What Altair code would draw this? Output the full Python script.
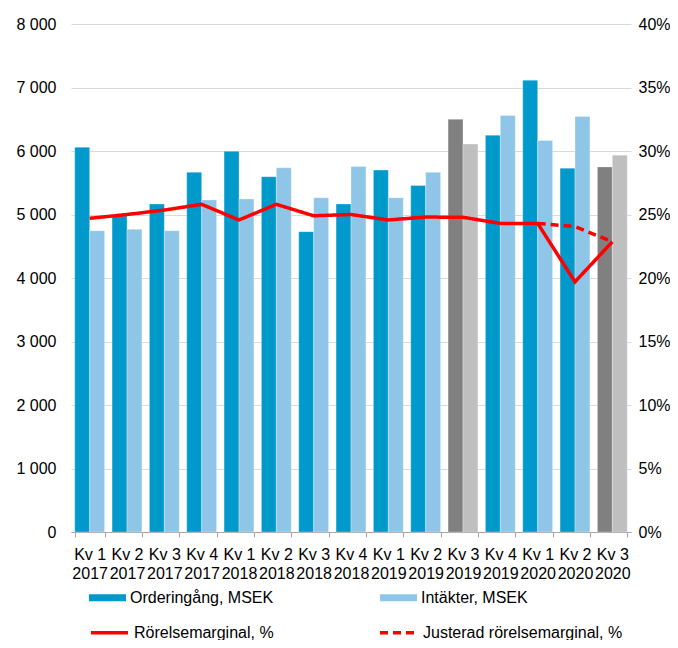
import altair as alt
import pandas as pd

# ---- data ----
quarters = ["Kv 1", "Kv 2", "Kv 3", "Kv 4", "Kv 1", "Kv 2", "Kv 3", "Kv 4",
            "Kv 1", "Kv 2", "Kv 3", "Kv 4", "Kv 1", "Kv 2", "Kv 3"]
years = ["2017", "2017", "2017", "2017", "2018", "2018", "2018", "2018",
         "2019", "2019", "2019", "2019", "2020", "2020", "2020"]
orderingang = [6060, 4980, 5165, 5665, 5995, 5595, 4730, 5165,
               5700, 5455, 6500, 6250, 7115, 5730, 5750]
intakter = [4745, 4767, 4745, 5230, 5245, 5735, 5265, 5755,
            5265, 5665, 6110, 6560, 6165, 6545, 5935]
rorelsemarginal = [24.7, 25.0, 25.35, 25.8, 24.57, 25.8, 24.9, 25.0,
                   24.57, 24.8, 24.78, 24.3, 24.3, 19.7, 22.85]
justerad_perioder = ["Kv 1 2020", "Kv 2 2020", "Kv 3 2020"]
justerad_marginal = [24.3, 24.05, 22.85]
markerade = ["Kv 3 2019", "Kv 3 2020"]

S_ORD = "Orderingång, MSEK"
S_INT = "Intäkter, MSEK"
S_RM = "Rörelsemarginal, %"
S_JRM = "Justerad rörelsemarginal, %"

perioder = [f"{q} {y}" for q, y in zip(quarters, years)]

bar_rows = []
for i, p in enumerate(perioder):
    for s, v in ((S_ORD, orderingang[i]), (S_INT, intakter[i])):
        key = s if p not in markerade else s + " (markerad)"
        bar_rows.append({"period": p, "serie": s, "varde": v, "farg": key})
bars_df = pd.DataFrame(bar_rows)

line_rows = []
for i, p in enumerate(perioder):
    line_rows.append({"period": p, "serie": S_RM, "varde": rorelsemarginal[i], "idx": i})
for p, v in zip(justerad_perioder, justerad_marginal):
    line_rows.append({"period": p, "serie": S_JRM, "varde": v, "idx": perioder.index(p)})
lines_df = pd.DataFrame(line_rows)

FONT = "Liberation Sans"

x_enc = alt.X(
    "period:N",
    sort=perioder,
    scale=alt.Scale(domain=perioder, paddingInner=0.2, paddingOuter=0.1),
    axis=alt.Axis(
        title=None,
        labelAngle=0,
        labelFontSize=16,
        labelColor="#000000",
        labelLineHeight=19,
        labelExpr="[substring(datum.label, 0, 4), substring(datum.label, 5)]",
        labelOverlap=False,
        labelBound=False,
        labelPadding=9,
        labelBaseline="top",
        tickBand="extent",
        tickSize=5,
        tickColor="#A6A6A6",
        domainColor="#A6A6A6",
        grid=False,
    ),
)

bar_colors_domain = [S_ORD, S_INT, S_ORD + " (markerad)", S_INT + " (markerad)"]
bar_colors_range = ["#0099CC", "#8FC6E7", "#808080", "#BFBFBF"]

line_legend = alt.Legend(
    title=None,
    orient="none",
    legendX=18,
    legendY=588,
    columns=2,
    columnPadding=99,
    symbolType="stroke",
    symbolSize=1369,
    symbolStrokeWidth=3.5,
    labelFontSize=16,
    labelColor="#000000",
    labelOffset=4,
    labelLimit=400,
)

bars = alt.Chart(bars_df).mark_bar(stroke="#FFFFFF", strokeWidth=0.5, strokeOpacity=0.6).encode(
    x=x_enc,
    xOffset=alt.XOffset("serie:N", sort=[S_ORD, S_INT],
                        scale=alt.Scale(domain=[S_ORD, S_INT], paddingInner=0, paddingOuter=0)),
    y=alt.Y(
        "varde:Q",
        scale=alt.Scale(domain=[0, 8000], nice=False),
        axis=alt.Axis(
            title=None,
            values=list(range(0, 8001, 1000)),
            labelExpr="replace(format(datum.value, ',d'), ',', ' ')",
            labelFontSize=16,
            labelColor="#000000",
            labelPadding=15,
            ticks=False,
            domain=False,
            grid=True,
            gridColor="#D9D9D9",
            gridWidth=1,
        ),
    ),
    color=alt.Color(
        "farg:N",
        scale=alt.Scale(domain=bar_colors_domain, range=bar_colors_range),
        legend=alt.Legend(
            title=None,
            values=[S_ORD, S_INT],
            orient="none",
            legendX=18,
            legendY=555,
            columns=2,
            columnPadding=106,
            symbolType="M-1,-0.19H1V0.19H-1Z",
            symbolSize=1369,
            symbolStrokeWidth=0,
            labelFontSize=16,
            labelColor="#000000",
            labelOffset=4,
            labelLimit=400,
        ),
    ),
)

lines = alt.Chart(lines_df).mark_line(strokeWidth=3.5).encode(
    x=x_enc,
    y=alt.Y(
        "varde:Q",
        scale=alt.Scale(domain=[0, 40], nice=False),
        axis=alt.Axis(
            title=None,
            orient="right",
            values=list(range(0, 41, 5)),
            labelExpr="datum.value + '%'",
            labelFontSize=16,
            labelColor="#000000",
            labelPadding=7,
            ticks=False,
            domain=False,
            grid=False,
        ),
    ),
    color=alt.Color(
        "serie:N",
        scale=alt.Scale(domain=[S_RM, S_JRM], range=["#FF0000", "#FF0000"]),
        legend=line_legend,
    ),
    strokeDash=alt.StrokeDash(
        "serie:N",
        scale=alt.Scale(domain=[S_RM, S_JRM], range=[[1, 0], [8, 5]]),
        legend=line_legend,
    ),
    order=alt.Order("idx:Q"),
)

chart = (
    alt.layer(bars, lines)
    .resolve_scale(y="independent", color="independent", strokeDash="independent")
    .properties(
        width=560,
        height=508,
        autosize=alt.AutoSizeParams(type="none"),
        padding={"left": 63, "top": 16, "right": 39, "bottom": 108},
    )
    .configure(font=FONT)
    .configure_view(stroke=None)
)

chart.save("out.html", embed_options={"renderer": "svg", "actions": False})
